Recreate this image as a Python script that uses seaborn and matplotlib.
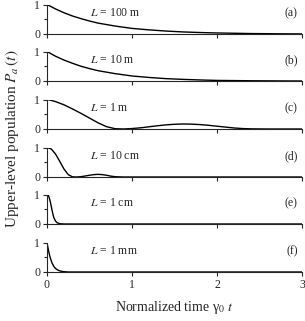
import numpy as np
import pandas as pd
import matplotlib
matplotlib.use("Agg")
import matplotlib.pyplot as plt
import seaborn as sns

# Values, one series per cavity length
t_a = [0, 0.1, 0.2, 0.3, 0.4, 0.5, 0.6, 0.8, 1.0, 1.2, 1.4, 1.6, 1.8, 2.0, 2.4, 2.8, 3.0]
p_a = [1, 0.85, 0.72, 0.61, 0.52, 0.44, 0.37, 0.27, 0.19, 0.14, 0.10, 0.07, 0.05, 0.035, 0.015, 0.005, 0.003]

t_b = [0, 0.1, 0.2, 0.3, 0.4, 0.5, 0.6, 0.8, 1.0, 1.2, 1.4, 1.6, 1.8, 2.0, 2.4, 2.8, 3.0]
p_b = [1, 0.84, 0.71, 0.60, 0.50, 0.42, 0.35, 0.25, 0.17, 0.12, 0.08, 0.055, 0.035, 0.02, 0.008, 0.002, 0.001]

t_c = [0, 0.05, 0.1, 0.2, 0.3, 0.4, 0.5, 0.6, 0.7, 0.8, 0.9, 1.0, 1.1, 1.2, 1.3, 1.4, 1.5, 1.6,
       1.7, 1.8, 1.9, 2.0, 2.1, 2.2, 2.3, 2.4, 2.6, 3.0]
p_c = [1, 0.97, 0.93, 0.82, 0.68, 0.53, 0.37, 0.21, 0.08, 0.01, 0.0, 0.015, 0.04, 0.075, 0.11, 0.14, 0.16, 0.17,
       0.165, 0.15, 0.125, 0.095, 0.065, 0.035, 0.015, 0.005, 0.0, 0.0]

t_d = [0, 0.05, 0.1, 0.15, 0.2, 0.25, 0.3, 0.35, 0.4, 0.45, 0.5, 0.55, 0.6, 0.65, 0.7, 0.75, 0.8, 0.9, 3.0]
p_d = [1, 0.95, 0.78, 0.53, 0.27, 0.08, 0.005, 0.0, 0.01, 0.035, 0.06, 0.08, 0.09, 0.08, 0.06, 0.03, 0.01, 0.0, 0.0]

t_e = [0, 0.01, 0.02, 0.03, 0.04, 0.05, 0.06, 0.07, 0.08, 0.1, 0.12, 0.15, 0.2, 3.0]
p_e = [1, 0.99, 0.94, 0.85, 0.74, 0.6, 0.46, 0.33, 0.22, 0.1, 0.04, 0.01, 0.0, 0.0]

t_f = [0, 0.01, 0.02, 0.03, 0.04, 0.05, 0.06, 0.08, 0.1, 0.13, 0.16, 0.2, 0.25, 3.0]
p_f = [1, 0.84, 0.7, 0.57, 0.47, 0.38, 0.3, 0.19, 0.12, 0.06, 0.03, 0.01, 0.0, 0.0]

lengths = ["100 m", "10 m", "1 m", "10 cm", "1 cm", "1 mm"]
panel_tags = ["(a)", "(b)", "(c)", "(d)", "(e)", "(f)"]
series = [(t_a, p_a), (t_b, p_b), (t_c, p_c), (t_d, p_d), (t_e, p_e), (t_f, p_f)]

sns.set_style("ticks")
plt.rcParams["font.family"] = ["Liberation Serif", "DejaVu Serif"]
plt.rcParams["mathtext.fontset"] = "stix"

fig = plt.figure(figsize=(3.05, 3.21), dpi=100)

W, H = 305.0, 321.0
left_px, right_px = 47, 302
zero_px = [34, 81, 129, 177, 224, 272]
panel_h = 29.5

for i, ((t, p), length, tag) in enumerate(zip(series, lengths, panel_tags)):
    ax = fig.add_axes([left_px / W, 1 - zero_px[i] / H,
                       (right_px - left_px) / W, panel_h / H])
    df = pd.DataFrame({"t": t, "p": p})
    sns.lineplot(data=df, x="t", y="p", ax=ax, color="black", linewidth=1.0)
    ax.set_xlim(0, 3)
    ax.set_ylim(0, 1)
    ax.set_xticks([0, 1, 2, 3])
    ax.set_yticks([0, 1])
    ax.set_yticks([0.5], minor=True)
    ax.tick_params(direction="out", length=3, width=0.8, labelsize=8.5, pad=2)
    ax.tick_params(which="minor", direction="out", length=2.5, width=0.8)
    if i < 5:
        ax.set_xticklabels([])
    ax.set_xlabel("")
    ax.set_ylabel("")
    for s in ["left", "bottom"]:
        ax.spines[s].set_linewidth(0.8)
    sns.despine(ax=ax)
    ax.text(0.5, 0.7, "$L$ = " + length, fontsize=8.5, va="center", ha="left")
    ax.text(2.95, 0.7, tag, fontsize=8.5, va="center", ha="right")

fig.text(12 / W, 1 - 139 / H, "Upper-level population $P_a\\,(t)$",
         rotation=90, ha="center", va="center", fontsize=11)
fig.text((left_px + right_px) / 2 / W, 1 - 308 / H, "Normalized time γ$_0$ $t$",
         ha="center", va="center", fontsize=10)

fig.savefig("out.png", dpi=100)
